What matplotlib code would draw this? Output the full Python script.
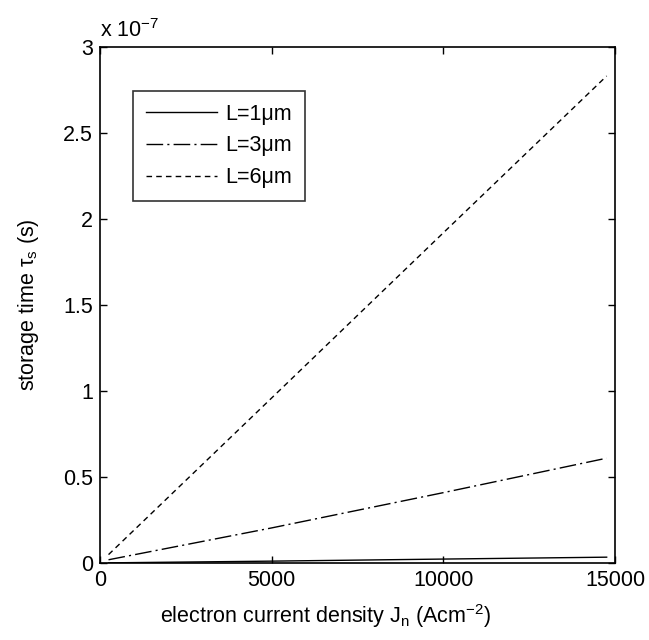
import matplotlib
matplotlib.use('Agg')
import matplotlib.pyplot as plt
from matplotlib.ticker import FuncFormatter

plt.rcParams['font.family'] = ['Liberation Sans', 'DejaVu Sans']
plt.rcParams['mathtext.fontset'] = 'custom'
plt.rcParams['mathtext.rm'] = 'Liberation Sans'
plt.rcParams['mathtext.it'] = 'Liberation Sans'

# data
J = [250, 5000, 10000, 14750]
tau_L1 = [0.002e-7, 0.012e-7, 0.024e-7, 0.035e-7]
tau_L3 = [0.02e-7, 0.205e-7, 0.41e-7, 0.61e-7]
tau_L6 = [0.05e-7, 0.96e-7, 1.92e-7, 2.83e-7]
labels = ['L=1μm', 'L=3μm', 'L=6μm']

fs = 15.5

fig = plt.figure(figsize=(6.49, 6.40), dpi=100)
ax = fig.add_axes([0.154, 0.120, 0.794, 0.807])

ax.plot(J, tau_L1, color='black', lw=1, ls='-', label=labels[0])
ax.plot(J, tau_L3, color='black', lw=1, ls=(0, (12, 3, 1.5, 3)), label=labels[1])
ax.plot(J, tau_L6, color='black', lw=1, ls=(0, (4, 3)), label=labels[2])

ax.set_xlim(0, 15000)
ax.set_ylim(0, 3e-7)
ax.set_xticks([0, 5000, 10000, 15000])
ax.set_yticks([i * 0.5e-7 for i in range(7)])
ax.yaxis.set_major_formatter(FuncFormatter(lambda v, p: '%g' % round(v / 1e-7, 2)))
ax.xaxis.set_major_formatter(FuncFormatter(lambda v, p: '%d' % v))
ax.tick_params(direction='in', top=True, right=True, length=5, width=1, labelsize=fs, pad=5)
for s in ax.spines.values():
    s.set_linewidth(1.2)

ax.text(0.0, 1.01, 'x 10$^{-7}$', transform=ax.transAxes, fontsize=fs, ha='left', va='bottom')
ax.set_xlabel('electron current density J$_\\mathregular{n}$ (Acm$^{-2}$)', fontsize=fs)
ax.set_ylabel('storage time τ$_\\mathregular{s}$ (s)', fontsize=fs)
ax.xaxis.set_label_coords(0.438, -0.075)
ax.yaxis.set_label_coords(-0.115, 0.5)

leg = ax.legend(loc='upper left', bbox_to_anchor=(0.064, 0.915), fontsize=fs, frameon=True,
                fancybox=False, edgecolor='black', handlelength=3.3, handletextpad=0.4,
                borderpad=0.6, labelspacing=0.5, borderaxespad=0)
leg.get_frame().set_linewidth(1.2)

fig.savefig('out.png', dpi=100)
